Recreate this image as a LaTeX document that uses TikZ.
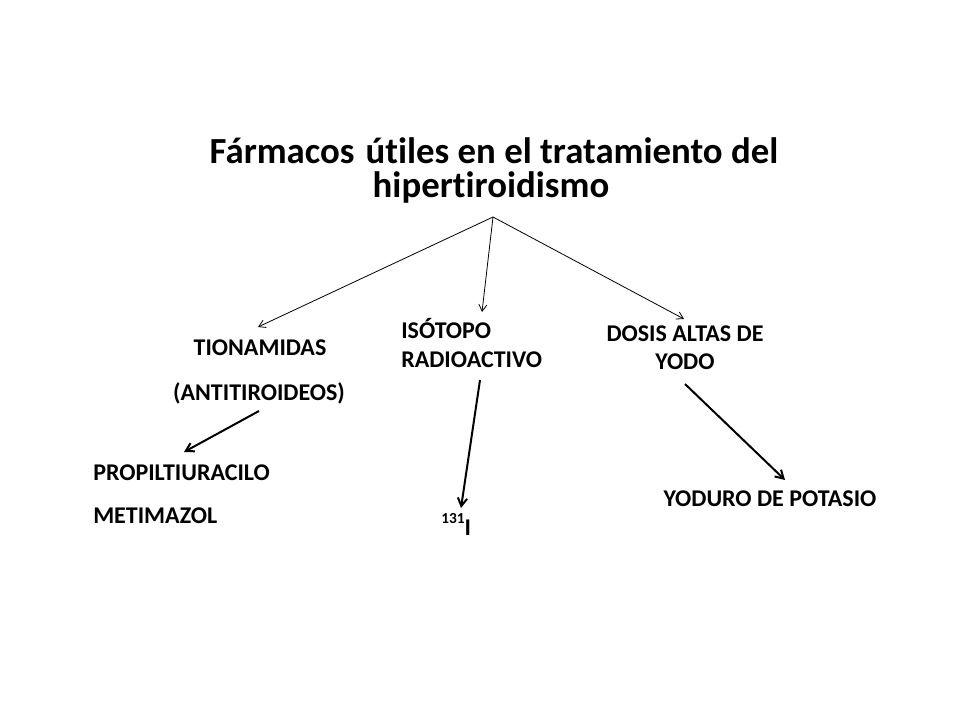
\documentclass[tikz,border=0pt]{standalone}
\usepackage{fontspec}
\setmainfont[Ligatures=NoCommon,RawFeature=-liga]{Carlito}
\usetikzlibrary{arrows.meta}
\begin{document}
\begin{tikzpicture}[x=0.75pt,y=-0.75pt,
  lbl/.style={font=\fontsize{18}{20}\selectfont\bfseries, inner sep=0pt, anchor=base},
  ttl/.style={font=\fontsize{27.6}{30}\selectfont\bfseries, inner sep=0pt, anchor=base},
  thin arrow/.style={line width=0.6pt, -{Straight Barb[length=5pt,width=6pt]}},
  thick arrow/.style={line width=1.5pt, -{Straight Barb[length=6pt,width=7pt]}}]
\useasboundingbox[fill=white] (0,0) rectangle (960,720);
% title
\node[ttl] (t1) at (494,164) {Fármacos\hspace{2pt} útiles en el tratamiento del};
\node[ttl] (t2) at (491,198) {hipertiroidismo};
\coordinate (hub) at (493,217);
% level 1
\node[lbl] (tio) at (260,355) {TIONAMIDAS};
\node[lbl] (anti) at (259,400) {(ANTITIROIDEOS)};
\node[lbl, anchor=base west] (iso1) at (401,339) {ISÓTOPO};
\node[lbl, anchor=base west] (iso2) at (401,367) {RADIOACTIVO};
\node[lbl] (dos1) at (685,341) {DOSIS ALTAS DE};
\node[lbl] (dos2) at (685,369) {YODO};
% level 2
\node[lbl, anchor=base west] (prop) at (93,480) {PROPILTIURACILO};
\node[lbl, anchor=base west] (meti) at (93,523) {METIMAZOL};
\node[lbl, anchor=base west] (iod) at (441,535) {\raisebox{0.5em}{\fontsize{11.5}{12}\selectfont 131}I};
\node[lbl] (kio) at (770,506) {YODURO DE POTASIO};
% connector endpoints
\coordinate (tioTip) at (258,327);
\coordinate (isoTip) at (482,312);
\coordinate (dosTip) at (684,319);
\coordinate (antiOut) at (259,411);
\coordinate (propTip) at (184,452);
\coordinate (isoOut) at (480,380);
\coordinate (iodTip) at (461,508);
\coordinate (dosOut) at (685,384);
\coordinate (kioTip) at (785,480);
% connectors
\draw[thin arrow] (hub) -- (tioTip);
\draw[thin arrow] (hub) -- (isoTip);
\draw[thin arrow] (hub) -- (dosTip);
\draw[thick arrow] (antiOut) -- (propTip);
\draw[thick arrow] (isoOut) -- (iodTip);
\draw[thick arrow] (dosOut) -- (kioTip);
\end{tikzpicture}
\end{document}
